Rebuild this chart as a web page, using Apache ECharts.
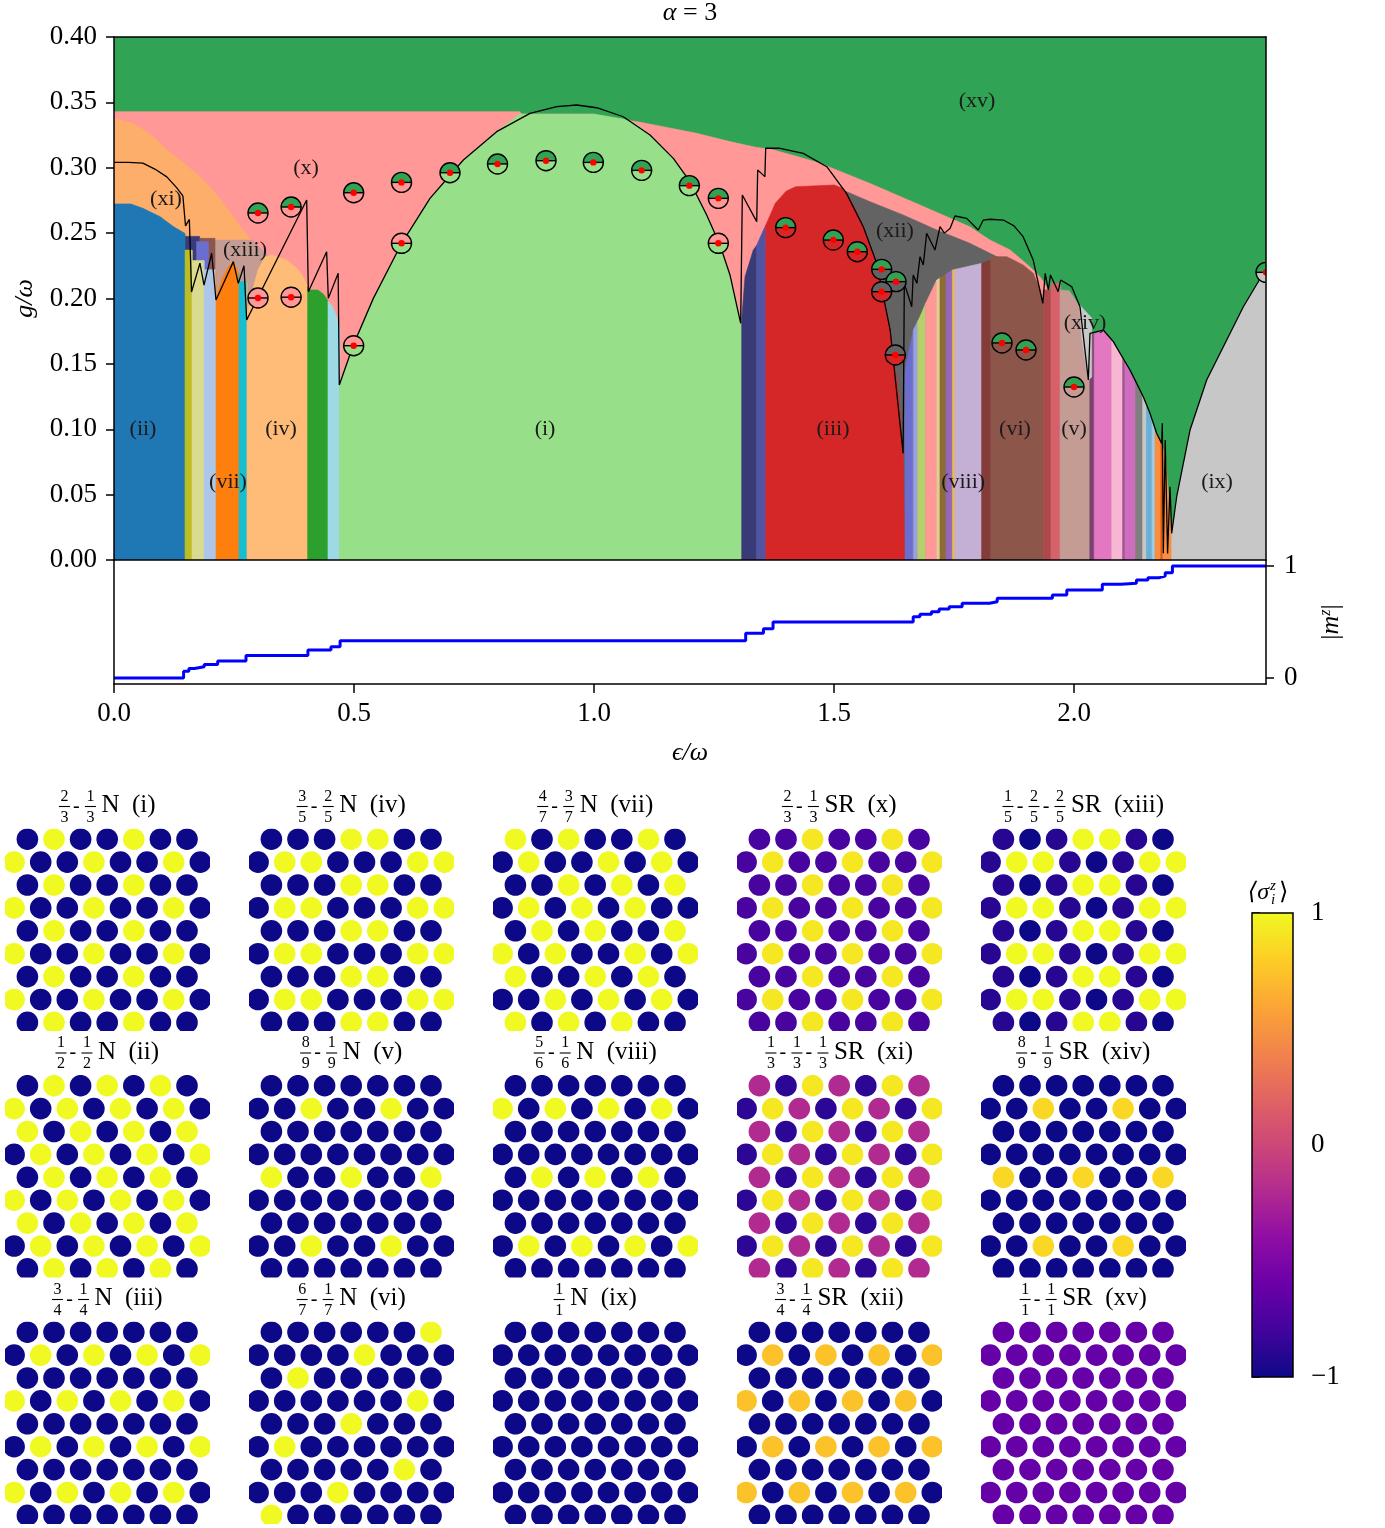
<!DOCTYPE html>
<html>
<head>
<meta charset="utf-8">
<script src="https://cdn.jsdelivr.net/npm/echarts@6/dist/echarts.min.js"></script>
<style>
html, body { margin: 0; padding: 0; background: #fff; }
#chart { width: 1385px; height: 1528px; }
</style>
</head>
<body>
<div id="chart"></div>
<script>
// phase diagram for alpha = 3, magnetisation below, lattice snapshots at the bottom
const FONT = '"Liberation Serif", "DejaVu Serif", serif';

// ---- phase regions, (eps/omega, g/omega) ----
const phaseXv = [[0, 0], [0, 0.4], [2.4, 0.4], [2.4, 0]];
const phaseX = [[0, 0], [0, 0.3429], [0.845, 0.3429], [0.85, 0.341], [1.0, 0.341], [1.047, 0.3373], [1.089, 0.3353], [1.144, 0.3314],
  [1.214, 0.3263], [1.283, 0.32], [1.339, 0.3155], [1.367, 0.3143], [1.42, 0.309], [1.471, 0.3034], [1.575, 0.288], [1.679, 0.2715],
  [1.783, 0.2549], [1.825, 0.2447], [1.867, 0.2371], [1.908, 0.2243], [1.929, 0.2167], [1.96, 0.2], [1.96, 0]];
const phaseXi = [[0, 0], [0, 0.338], [0.04, 0.334], [0.08, 0.3245], [0.11, 0.3136], [0.145, 0.3035], [0.179, 0.293], [0.215, 0.279],
  [0.2486, 0.2626], [0.29, 0.2422], [0.29, 0]];
const phaseXii = [[1.5, 0], [1.5, 0.2868], [1.5264, 0.2817], [1.575, 0.274], [1.644, 0.2639], [1.714, 0.2524], [1.783, 0.2422],
  [1.846, 0.2307], [1.87, 0.226], [1.87, 0]];
const phaseXiii = [[0.148, 0], [0.148, 0.2447], [0.2875, 0.2447], [0.305, 0.2385], [0.322, 0.232], [0.3, 0.2], [0.277, 0.183], [0.277, 0]];
const patchNavy = [[0.148, 0.2475], [0.1785, 0.2475], [0.1785, 0.215], [0.148, 0.215]];
const patchBrown = [[0.179, 0.246], [0.2104, 0.246], [0.2104, 0.2], [0.195, 0.2], [0.179, 0.225]];
const patchViolet = [[0.172, 0.2435], [0.197, 0.2435], [0.197, 0.205], [0.172, 0.205]];
const phaseIi = [[0, 0], [0, 0.2723], [0.035, 0.2723], [0.06, 0.269], [0.096, 0.2626], [0.1236, 0.255], [0.148, 0.2497], [0.148, 0]];
const phaseI = [[0.4694, 0], [0.4694, 0.1338], [0.4986, 0.1644], [0.5403, 0.2001], [0.5993, 0.2422], [0.6583, 0.2766], [0.7278, 0.3059],
  [0.7972, 0.3276], [0.845, 0.341], [1.0, 0.341], [1.02, 0.3398], [1.061, 0.3373], [1.09, 0.333], [1.1167, 0.325], [1.1653, 0.3072],
  [1.2, 0.2893], [1.2347, 0.2639], [1.2625, 0.2409], [1.2833, 0.218], [1.3077, 0.181], [1.3077, 0]];
const stripNavy = [[1.3077, 0], [1.3077, 0.1835], [1.3146, 0.2167], [1.3318, 0.237], [1.339, 0.2407], [1.339, 0]];
const stripIndigo = [[1.339, 0], [1.339, 0.2407], [1.35, 0.25], [1.358, 0.2562], [1.358, 0]];
const phaseIii = [[1.358, 0], [1.358, 0.2562], [1.3625, 0.26], [1.3778, 0.2728], [1.4, 0.282], [1.42, 0.2855], [1.5, 0.2868], [1.52, 0.2839],
  [1.526, 0.2804], [1.545, 0.268], [1.561, 0.2549], [1.589, 0.2269], [1.617, 0.1759], [1.635, 0.125], [1.644, 0.0816], [1.648, 0]];
const phaseXiv = [[2.012, 0.195], [2.037, 0.185], [2.037, 0.14], [2.03, 0.1377], [2.016, 0.17]];
const phaseIx = [[2.2035, 0], [2.2035, 0.0204], [2.2139, 0.0484], [2.2417, 0.0994], [2.2764, 0.1377], [2.3111, 0.1631], [2.3528, 0.1937],
  [2.3944, 0.2193], [2.4, 0.2225], [2.4, 0]];

// narrow vertical phases: edges along eps and the upper profile they share
const leftEdges = [0.148, 0.1625, 0.1875, 0.2125, 0.2604, 0.277, 0.4035, 0.4458, 0.4708];
const leftTop = [[0.148, 0.237], [0.1625, 0.237], [0.16251, 0.229], [0.1875, 0.229], [0.18751, 0.222], [0.2125, 0.222], [0.21251, 0.2],
  [0.225, 0.215], [0.24, 0.2255], [0.25, 0.227], [0.2604, 0.219], [0.26041, 0.2128], [0.277, 0.2128], [0.2771, 0.19], [0.3, 0.222],
  [0.315, 0.232], [0.33, 0.2333], [0.36, 0.2294], [0.385, 0.2218], [0.398, 0.214], [0.4035, 0.209], [0.4036, 0.2065], [0.425, 0.2065],
  [0.437, 0.203], [0.4458, 0.198], [0.455, 0.194], [0.465, 0.185], [0.4708, 0.176]];
const rightEdges = [1.648, 1.6653, 1.6743, 1.691, 1.714, 1.7208, 1.7333, 1.7465, 1.752, 1.8077, 1.8264, 1.936, 1.952, 1.971, 2.033,
  2.042, 2.0785, 2.1014, 2.106, 2.1285, 2.143, 2.151, 2.1625, 2.169, 2.181, 2.185, 2.2035];
const rightTop = [[1.648, 0.145], [1.6653, 0.1759], [1.679, 0.186], [1.691, 0.1963], [1.714, 0.2141], [1.7465, 0.2218], [1.8077, 0.2269],
  [1.8264, 0.2294], [1.8265, 0.232], [1.86, 0.232], [1.894, 0.2256], [1.915, 0.2193], [1.93, 0.2065], [1.936, 0.1963], [1.9361, 0.2065],
  [1.952, 0.2065], [1.9521, 0.2116], [1.971, 0.2116], [1.9711, 0.2065], [1.99, 0.206], [2.0125, 0.1937], [2.033, 0.17], [2.0331, 0.172],
  [2.061, 0.1755], [2.082, 0.166], [2.096, 0.157], [2.1167, 0.144], [2.1306, 0.134], [2.1444, 0.124], [2.1583, 0.111], [2.1722, 0.096],
  [2.1826, 0.088], [2.19, 0.08], [2.2035, 0.02]];

// phase boundary line
const blackLine = [[0, 0.3041], [0.03, 0.3041], [0.06, 0.3035], [0.085, 0.299], [0.11, 0.293], [0.13, 0.285], [0.1435, 0.2785], [0.1475, 0.2785],
  [0.149, 0.2555], [0.157, 0.2605], [0.1615, 0.205], [0.179, 0.227], [0.1875, 0.2103], [0.2035, 0.2346], [0.2125, 0.1989], [0.2486, 0.2282],
  [0.259, 0.2116], [0.2708, 0.2251], [0.2764, 0.1836], [0.4014, 0.2753], [0.4049, 0.2052], [0.443, 0.2358], [0.4465, 0.2001], [0.467, 0.2193],
  [0.4694, 0.1338], [0.4986, 0.1644], [0.5403, 0.2001], [0.5993, 0.2422], [0.6583, 0.2766], [0.7278, 0.3059], [0.7972, 0.3276], [0.8667, 0.3416],
  [0.9222, 0.3467], [0.9639, 0.348], [1.0056, 0.3459], [1.061, 0.339], [1.1167, 0.325], [1.1653, 0.3072], [1.2, 0.2893], [1.2347, 0.2639],
  [1.2625, 0.2409], [1.2833, 0.218], [1.3056, 0.181], [1.309, 0.2792], [1.339, 0.2588], [1.341, 0.2983], [1.356, 0.2932], [1.3577, 0.3149],
  [1.3875, 0.3149], [1.436, 0.311], [1.485, 0.3008], [1.526, 0.2804], [1.561, 0.2549], [1.589, 0.2269], [1.617, 0.1759], [1.644, 0.0816],
  [1.6465, 0.2116], [1.662, 0.1937], [1.665, 0.218], [1.6726, 0.2116], [1.6792, 0.232], [1.686, 0.2256], [1.693, 0.2499], [1.7104, 0.2371],
  [1.7208, 0.2549], [1.73, 0.25], [1.7417, 0.2536], [1.752, 0.2631], [1.7764, 0.2613], [1.8006, 0.2524], [1.811, 0.26], [1.825, 0.2606],
  [1.8528, 0.26], [1.875, 0.2555], [1.894, 0.2473], [1.915, 0.2294], [1.935, 0.1963], [1.94, 0.2193], [1.9465, 0.2065], [1.951, 0.218],
  [1.967, 0.2052], [1.9722, 0.2141], [1.9951, 0.2091], [2.0125, 0.1937], [2.0299, 0.1377], [2.0333, 0.1734], [2.061, 0.1759], [2.082, 0.167],
  [2.096, 0.1581], [2.1167, 0.1453], [2.1306, 0.1351], [2.1444, 0.1249], [2.1583, 0.1122], [2.1722, 0.0969], [2.1826, 0.0892], [2.184, 0.1045],
  [2.1861, 0.0051], [2.19, 0.0918], [2.195, 0.005], [2.2, 0.056], [2.2035, 0.0204], [2.2139, 0.0484], [2.2417, 0.0994], [2.2764, 0.1377],
  [2.3111, 0.1631], [2.3528, 0.1937], [2.3944, 0.2193], [2.4, 0.2225]];

// split-circle markers: position, phase above / below
const markerPos = [[0.3, 0.2654], [0.369, 0.27], [0.4993, 0.2809], [0.599, 0.2888], [0.7, 0.2962], [0.799, 0.3029], [0.9, 0.3054],
  [0.9986, 0.3041], [1.0993, 0.298], [1.1986, 0.2863], [1.259, 0.2766], [0.3, 0.2004], [0.369, 0.201], [0.4993, 0.1639], [0.599, 0.2422],
  [1.259, 0.2422], [1.3993, 0.2542], [1.4986, 0.2447], [1.5486, 0.2358], [1.5993, 0.2223], [1.6292, 0.2129], [1.5993, 0.2052],
  [1.6278, 0.1568], [1.85, 0.166], [1.9, 0.1606], [2.0, 0.1323], [2.4, 0.22]];
const markerTop = ['xv', 'xv', 'xv', 'xv', 'xv', 'xv', 'xv', 'xv', 'xv', 'xv', 'xv', 'x', 'x', 'x', 'x', 'x', 'xv', 'xv', 'xv', 'xv', 'xv',
  'xii', 'xii', 'xv', 'xv', 'xv', 'xv'];
const markerBottom = ['x', 'x', 'x', 'x', 'i', 'i', 'i', 'i', 'i', 'i', 'x', 'x', 'x', 'i', 'i', 'i', 'iii', 'iii', 'iii', 'xii', 'xii',
  'iii', 'iii', 'vi', 'vi', 'v', 'ix'];

// region labels
const labelText = ['(xv)', '(x)', '(xi)', '(xiii)', '(xii)', '(xiv)', '(ii)', '(iv)', '(i)', '(iii)', '(vi)', '(v)', '(vii)', '(viii)', '(ix)'];
const labelPos = [[1.798, 0.3511], [0.4, 0.2998], [0.1083, 0.2761], [0.2729, 0.2371], [1.627, 0.2516], [2.023, 0.1813], [0.0604, 0.1002],
  [0.348, 0.1002], [0.898, 0.1002], [1.498, 0.1002], [1.877, 0.1002], [2.0, 0.1002], [0.2375, 0.0597], [1.769, 0.0597], [2.298, 0.0597]];

// |m^z| along eps (value holds from each eps on)
const mzX = [0, 0.145, 0.156, 0.1675, 0.188, 0.216, 0.275, 0.404, 0.452, 0.471, 1.316, 1.353, 1.373, 1.665, 1.679, 1.703, 1.719, 1.74,
  1.767, 1.824, 1.84, 1.955, 1.985, 2.059, 2.098, 2.13, 2.154, 2.178, 2.19, 2.205, 2.4];
const mzY = [0, 0.06, 0.085, 0.1, 0.12, 0.152, 0.2, 0.25, 0.28, 0.333, 0.4, 0.44, 0.5, 0.547, 0.57, 0.592, 0.616, 0.637,
  0.667, 0.681, 0.711, 0.741, 0.786, 0.837, 0.846, 0.875, 0.896, 0.91, 0.94, 1.0, 1.0];

// lattice snapshots, <sigma_z> per site (rows alternate 7 / 8 sites)
const spinValue = { N: -1, Y: 1, P: -0.76, Q: 0.92, A: -0.9, M: -0.2, D: -0.88, G: 0.84, O: 0.74, V: -0.62 };
const spinsI = ['NYNNYNN', 'YNNYNNYN', 'NYNNYNN', 'YNNYNNYN', 'NYNNYNN', 'YNNYNNYN', 'NYNNYNN', 'YNNYNNYN', 'NYNNYNN'];
const spinsIv = ['NNNYYNN', 'NYYNNNYY', 'NNNYYNN', 'NYYNNNYY', 'NNNYYNN', 'NYYNNNYY', 'NNNYYNN', 'NYYNNNYY', 'NNNYYNN'];
const spinsVii = ['YNYNNYN', 'NYNNYNYN', 'NNYNYNY', 'NYNYNYNN', 'NYNYNNY', 'YNYNNYNY', 'YNNYNYN', 'NNYNYNYN', 'YNYNYNN'];
const spinsX = ['PPQPPQP', 'PQPPQPPQ', 'PPQPPQP', 'PQPPQPPQ', 'PPQPPQP', 'PQPPQPPQ', 'PPQPPQP', 'PQPPQPPQ', 'PPQPPQP'];
const spinsXiii = ['ANAYYAN', 'AYYANAYY', 'ANAYYAN', 'AYYANAYY', 'ANAYYAN', 'AYYANAYY', 'ANAYYAN', 'AYYANAYY', 'ANAYYAN'];
const spinsIi = ['NYNYNYN', 'YNYNYNYN', 'YNYNYNY', 'NYNYNYNY', 'NYNYNYN', 'YNYNYNYN', 'YNYNYNY', 'NYNYNYNY', 'NYNYNYN'];
const spinsV = ['NNNNNNN', 'NNYNNYNN', 'NNNNNNN', 'NNNNNNNN', 'YNNYNNY', 'NNNNNNNN', 'NNNNNNN', 'NNYNNYNN', 'NNNNNNN'];
const spinsViii = ['NNNNNNN', 'YNYNYNYN', 'NNNNNNN', 'NNNNNNNN', 'NYNYNYN', 'NNNNNNNN', 'NNNNNNN', 'NYNYNYNY', 'NNNNNNN'];
const spinsXi = ['MDQMDQM', 'DQMDQMDQ', 'MDQMDQM', 'DQMDQMDQ', 'MDQMDQM', 'DQMDQMDQ', 'MDQMDQM', 'DQMDQMDQ', 'MDQMDQM'];
const spinsXiv = ['NNNNNNN', 'NNGNNGNN', 'NNNNNNN', 'NNNNNNNN', 'GNNGNNG', 'NNNNNNNN', 'NNNNNNN', 'NNGNNGNN', 'NNNNNNN'];
const spinsIii = ['NNNNNNN', 'NYNYNYNY', 'NNNNNNN', 'YNYNYNYN', 'NNNNNNN', 'NYNYNYNY', 'NNNNNNN', 'YNYNYNYN', 'NNNNNNN'];
const spinsVi = ['NNNNNNY', 'NNNNYNNN', 'NYNNNNN', 'NNNNNNYN', 'NNNYNNN', 'NYNNNNNN', 'NNNNNYN', 'NNNYNNNN', 'YNNNNNN'];
const spinsIx = ['NNNNNNN', 'NNNNNNNN', 'NNNNNNN', 'NNNNNNNN', 'NNNNNNN', 'NNNNNNNN', 'NNNNNNN', 'NNNNNNNN', 'NNNNNNN'];
const spinsXii = ['NNNNNNN', 'NONONONO', 'NNNNNNN', 'ONONONON', 'NNNNNNN', 'NONONONO', 'NNNNNNN', 'ONONONON', 'NNNNNNN'];
const spinsXv = ['VVVVVVV', 'VVVVVVVV', 'VVVVVVV', 'VVVVVVVV', 'VVVVVVV', 'VVVVVVVV', 'VVVVVVV', 'VVVVVVVV', 'VVVVVVV'];

const panelSpins = [spinsI, spinsIv, spinsVii, spinsX, spinsXiii, spinsIi, spinsV, spinsViii, spinsXi, spinsXiv,
  spinsIii, spinsVi, spinsIx, spinsXii, spinsXv];
const panelFracs = [[[2, 3], [1, 3]], [[3, 5], [2, 5]], [[4, 7], [3, 7]], [[2, 3], [1, 3]], [[1, 5], [2, 5], [2, 5]],
  [[1, 2], [1, 2]], [[8, 9], [1, 9]], [[5, 6], [1, 6]], [[1, 3], [1, 3], [1, 3]], [[8, 9], [1, 9]],
  [[3, 4], [1, 4]], [[6, 7], [1, 7]], [[1, 1]], [[3, 4], [1, 4]], [[1, 1], [1, 1]]];
const panelNames = ['N  (i)', 'N  (iv)', 'N  (vii)', 'SR  (x)', 'SR  (xiii)', 'N  (ii)', 'N  (v)', 'N  (viii)', 'SR  (xi)', 'SR  (xiv)',
  'N  (iii)', 'N  (vi)', 'N  (ix)', 'SR  (xii)', 'SR  (xv)'];

// ---- styles ----
const phaseColor = { i: '#98df8a', ii: '#1f77b4', iii: '#d62728', iv: '#ffbb78', v: '#c49c94', vi: '#8c564b', ix: '#c7c7c7',
  x: '#ff9896', xi: '#fdae6b', xii: '#636363', xiii: '#c49c94', xiv: '#c7c7c7', xv: '#31a354' };
const leftColors = ['#bcbd22', '#dbdb8d', '#aec7e8', '#ff7f0e', '#17becf', '#ffbb78', '#2ca02c', '#9edae5'];
const rightColors = ['#6b6ecf', '#9c9ede', '#b5cf6b', '#ff9896', '#e7cb94', '#8c6d31', '#9467bd', '#e7ba52', '#c5b0d5', '#843c39',
  '#8c564b', '#ad494a', '#d6616b', '#c49c94', '#7b4173', '#e377c2', '#f7b6d2', '#a55194', '#ce6dbd', '#7f7f7f', '#c7c7c7',
  '#6baed6', '#9ecae1', '#fd8d3c', '#e6550d', '#fd8d3c'];
const plasma = ['#0d0887', '#41049d', '#6a00a8', '#8f0da4', '#b12a90', '#cc4778', '#e16462', '#f2844b', '#fca636', '#fcce25', '#f0f921'];

function topAt(profile, x) {
  for (let j = 0; j < profile.length - 1; j++) {
    const a = profile[j], b = profile[j + 1];
    if (x >= a[0] && x <= b[0]) return b[0] === a[0] ? a[1] : a[1] + (b[1] - a[1]) * (x - a[0]) / (b[0] - a[0]);
  }
  return profile[profile.length - 1][1];
}
function stripPolygon(profile, x0, x1) {
  const pts = [[x0, 0], [x0, topAt(profile, x0)]];
  profile.forEach(p => { if (p[0] > x0 && p[0] < x1) pts.push(p); });
  pts.push([x1, topAt(profile, x1)], [x1, 0]);
  return pts;
}

// draw order
const shapes = [phaseXv, phaseX, phaseXi, phaseXii, phaseXiii, patchNavy, patchBrown, patchViolet, phaseIi];
const fills = [phaseColor.xv, phaseColor.x, phaseColor.xi, phaseColor.xii, phaseColor.xiii, '#393b79', '#8c564b', '#6b6ecf', phaseColor.ii];
for (let j = 0; j < leftEdges.length - 1; j++) { shapes.push(stripPolygon(leftTop, leftEdges[j], leftEdges[j + 1])); fills.push(leftColors[j]); }
shapes.push(phaseI, stripNavy, stripIndigo, phaseIii);
fills.push(phaseColor.i, '#393b79', '#5254a3', phaseColor.iii);
for (let j = 0; j < rightEdges.length - 1; j++) { shapes.push(stripPolygon(rightTop, rightEdges[j], rightEdges[j + 1])); fills.push(rightColors[j]); }
shapes.push(phaseXiv, phaseIx);
fills.push(phaseColor.xiv, phaseColor.ix);

const ROW_STEP = 0.8609;
const measure = document.createElement('canvas').getContext('2d');
function textWidth(s, size) { measure.font = size + 'px ' + FONT; return measure.measureText(s).width; }

// panel titles as fractions + name
const titleGraphics = [];
panelFracs.forEach((fr, p) => {
  const col = p % 5, row = Math.floor(p / 5);
  const cx = 107 + 244 * col, cy = 806.5 + 246.5 * row;
  const fw = 12, dw = 14, gap = 5;
  const sw = textWidth(panelNames[p], 25);
  let x = cx - (fr.length * fw + (fr.length - 1) * dw + gap + sw) / 2;
  fr.forEach((f, j) => {
    titleGraphics.push(
      { type: 'text', x: x + fw / 2, y: cy - 2, style: { text: String(f[0]), font: '16px ' + FONT, fill: '#000', align: 'center', verticalAlign: 'bottom' } },
      { type: 'line', shape: { x1: x + 0.5, y1: cy, x2: x + fw - 0.5, y2: cy }, style: { stroke: '#000', lineWidth: 1.1 } },
      { type: 'text', x: x + fw / 2, y: cy + 3, style: { text: String(f[1]), font: '16px ' + FONT, fill: '#000', align: 'center', verticalAlign: 'top' } }
    );
    x += fw;
    if (j < fr.length - 1) {
      titleGraphics.push({ type: 'text', x: x + dw / 2 - 1, y: cy, style: { text: '-', font: '20px ' + FONT, fill: '#000', align: 'center', verticalAlign: 'middle' } });
      x += dw;
    }
  });
  titleGraphics.push({ type: 'text', x: x + gap, y: cy - 1, style: { text: panelNames[p], font: '25px ' + FONT, fill: '#000', align: 'left', verticalAlign: 'middle' } });
});
// colour bar heading <sigma_i^z>
titleGraphics.push(
  { type: 'text', x: 1269, y: 893, style: { text: '⟨σ', font: 'italic 24px ' + FONT, fill: '#000', align: 'right', verticalAlign: 'middle' } },
  { type: 'text', x: 1270, y: 886, style: { text: 'z', font: 'italic 15px ' + FONT, fill: '#000', align: 'left', verticalAlign: 'middle' } },
  { type: 'text', x: 1271, y: 900, style: { text: 'i', font: 'italic 15px ' + FONT, fill: '#000', align: 'left', verticalAlign: 'middle' } },
  { type: 'text', x: 1279, y: 893, style: { text: '⟩', font: '24px ' + FONT, fill: '#000', align: 'left', verticalAlign: 'middle' } }
);

const black = { color: '#000', width: 1.5 };
const tickFont = { fontFamily: FONT, fontSize: 27, color: '#000' };
const frameAxis = (gridIndex, position) => ({ type: 'value', gridIndex, position, min: 0, max: 1, z: 10,
  axisLine: { show: true, onZero: false, lineStyle: black }, axisTick: { show: false }, axisLabel: { show: false }, splitLine: { show: false } });

const grids = [
  { left: 114, top: 37, width: 1152, height: 523 },
  { left: 114, top: 560, width: 1152, height: 124 },
  { left: 1252, top: 913, width: 41, height: 464 }
];
const xAxes = [
  { type: 'value', gridIndex: 0, min: 0, max: 2.4, z: 10, axisLine: { show: true, onZero: false, lineStyle: black },
    axisTick: { show: false }, axisLabel: { show: false }, splitLine: { show: false } },
  frameAxis(0, 'top'),
  { type: 'value', gridIndex: 1, min: 0, max: 2.4, interval: 0.5, z: 10,
    axisLine: { show: true, onZero: false, lineStyle: black },
    axisTick: { show: true, length: 9, lineStyle: black, customValues: [0, 0.5, 1, 1.5, 2] },
    axisLabel: { margin: 16, ...tickFont, formatter: v => v.toFixed(1), customValues: [0, 0.5, 1, 1.5, 2] },
    splitLine: { show: false },
    name: 'ϵ/ω', nameLocation: 'middle', nameGap: 56, nameTextStyle: { fontFamily: FONT, fontSize: 26, fontStyle: 'italic', color: '#000' } },
  { type: 'value', gridIndex: 2, min: 0, max: 1, show: false }
];
const yAxes = [
  { type: 'value', gridIndex: 0, min: 0, max: 0.4, interval: 0.05, z: 10,
    axisLine: { show: true, onZero: false, lineStyle: black },
    axisTick: { show: true, length: 8, lineStyle: black },
    axisLabel: { margin: 17, ...tickFont, formatter: v => v.toFixed(2) }, splitLine: { show: false },
    name: 'g/ω', nameLocation: 'middle', nameRotate: 90, nameGap: 76,
    nameTextStyle: { fontFamily: FONT, fontSize: 26, fontStyle: 'italic', color: '#000' } },
  frameAxis(0, 'right'),
  { type: 'value', gridIndex: 1, position: 'right', min: -0.0536, max: 1.0536, z: 10,
    axisLine: { show: true, onZero: false, lineStyle: black },
    axisTick: { show: true, length: 8, lineStyle: black, customValues: [0, 1] },
    axisLabel: { margin: 18, ...tickFont, customValues: [0, 1], formatter: v => String(Math.round(v)) }, splitLine: { show: false },
    name: '|{m|m}{s|z}|', nameLocation: 'middle', nameRotate: 90, nameGap: 52,
    nameTextStyle: { fontFamily: FONT, fontSize: 26, color: '#000',
      rich: { m: { fontFamily: FONT, fontSize: 26, fontStyle: 'italic' }, s: { fontFamily: FONT, fontSize: 16, fontStyle: 'italic', verticalAlign: 'top' } } } },
  frameAxis(1, 'left'),
  { type: 'value', gridIndex: 2, position: 'right', min: -1, max: 1, interval: 1,
    axisLine: { show: false }, axisTick: { show: true, length: 8, lineStyle: black },
    axisLabel: { margin: 18, ...tickFont, formatter: v => (v < 0 ? '−' + Math.abs(v) : String(v)) }, splitLine: { show: false } }
];

const series = [
  { type: 'custom', xAxisIndex: 0, yAxisIndex: 0, clip: true, z: 2, silent: true,
    data: shapes.map((s, i) => [i, 0]),
    renderItem: (params, api) => {
      const idx = api.value(0);
      return { type: 'polygon', shape: { points: shapes[idx].map(p => api.coord(p)) },
        style: { fill: fills[idx], stroke: fills[idx], lineWidth: 0.6 } };
    } },
  { type: 'line', xAxisIndex: 0, yAxisIndex: 0, data: blackLine, showSymbol: false, clip: true, z: 3, silent: true,
    lineStyle: { color: '#000', width: 1.3 } },
  { type: 'custom', xAxisIndex: 0, yAxisIndex: 0, clip: true, z: 4, silent: true,
    data: markerPos.map((p, i) => [p[0], p[1], i]),
    renderItem: (params, api) => {
      const i = api.value(2);
      const c = api.coord([api.value(0), api.value(1)]);
      const r = 10;
      return { type: 'group', children: [
        { type: 'sector', shape: { cx: c[0], cy: c[1], r0: 0, r, startAngle: Math.PI, endAngle: 2 * Math.PI }, style: { fill: phaseColor[markerTop[i]] } },
        { type: 'sector', shape: { cx: c[0], cy: c[1], r0: 0, r, startAngle: 0, endAngle: Math.PI }, style: { fill: phaseColor[markerBottom[i]] } },
        { type: 'circle', shape: { cx: c[0], cy: c[1], r }, style: { fill: 'none', stroke: '#000', lineWidth: 1.4 } },
        { type: 'line', shape: { x1: c[0] - r, y1: c[1], x2: c[0] + r, y2: c[1] }, style: { stroke: '#000', lineWidth: 1.4 } },
        { type: 'circle', shape: { cx: c[0], cy: c[1], r: 3.2 }, style: { fill: '#ff0000' } }
      ] };
    } },
  { type: 'custom', xAxisIndex: 0, yAxisIndex: 0, clip: true, z: 5, silent: true,
    data: labelPos.map((p, i) => [p[0], p[1], i]),
    renderItem: (params, api) => {
      const c = api.coord([api.value(0), api.value(1)]);
      return { type: 'text', x: c[0], y: c[1],
        style: { text: labelText[api.value(2)], font: '22px ' + FONT, fill: '#1a1a1a', align: 'center', verticalAlign: 'middle' } };
    } },
  { type: 'line', xAxisIndex: 2, yAxisIndex: 2, step: 'end', showSymbol: false, silent: true,
    data: mzX.map((x, i) => [x, mzY[i]]), lineStyle: { color: '#0000ff', width: 3 } },
  { type: 'custom', xAxisIndex: 3, yAxisIndex: 4, silent: true, data: [[0, -1]],
    renderItem: (params, api) => {
      const a = api.coord([0, 1]), b = api.coord([1, -1]);
      const stops = plasma.map((c, k) => ({ offset: 1 - k / (plasma.length - 1), color: c }));
      return { type: 'rect', shape: { x: a[0], y: a[1], width: b[0] - a[0], height: b[1] - a[1] },
        style: { fill: new echarts.graphic.LinearGradient(0, 0, 0, 1, stops.reverse()), stroke: '#000', lineWidth: 1.5 } };
    } }
];

const latticeIndex = [];
panelSpins.forEach((rows, p) => {
  const col = p % 5, row = Math.floor(p / 5);
  grids.push({ left: 5 + 244 * col, top: 828.5 + 246.5 * row, width: 204.3, height: 202.5 });
  xAxes.push({ type: 'value', gridIndex: 3 + p, min: -0.342, max: 7.338, show: false });
  yAxes.push({ type: 'value', gridIndex: 3 + p, min: -0.402, max: 7.21, inverse: true, show: false });
  const dots = [];
  rows.forEach((line, r) => {
    for (let k = 0; k < line.length; k++) dots.push([k + (r % 2 === 0 ? 0.5 : 0), r * ROW_STEP, spinValue[line[k]]]);
  });
  latticeIndex.push(series.length);
  series.push({ type: 'custom', xAxisIndex: 4 + p, yAxisIndex: 5 + p, clip: true, silent: true, data: dots,
    renderItem: (params, api) => {
      const c = api.coord([api.value(0), api.value(1)]);
      return { type: 'circle', shape: { cx: c[0], cy: c[1], r: 10.8 }, style: { fill: api.visual('color') } };
    } });
});

const chart = echarts.init(document.getElementById('chart'));
chart.setOption({
  animation: false,
  backgroundColor: '#fff',
  title: { text: '{a|α} = 3', left: 690, textAlign: 'center', top: 0, padding: 0,
    textStyle: { fontFamily: FONT, fontSize: 26, fontWeight: 'normal', color: '#000',
      rich: { a: { fontFamily: FONT, fontSize: 26, fontStyle: 'italic', color: '#000' } } } },
  grid: grids,
  xAxis: xAxes,
  yAxis: yAxes,
  visualMap: { type: 'continuous', show: false, min: -1, max: 1, dimension: 2, seriesIndex: latticeIndex, inRange: { color: plasma } },
  graphic: titleGraphics,
  series
});
</script>
</body>
</html>
